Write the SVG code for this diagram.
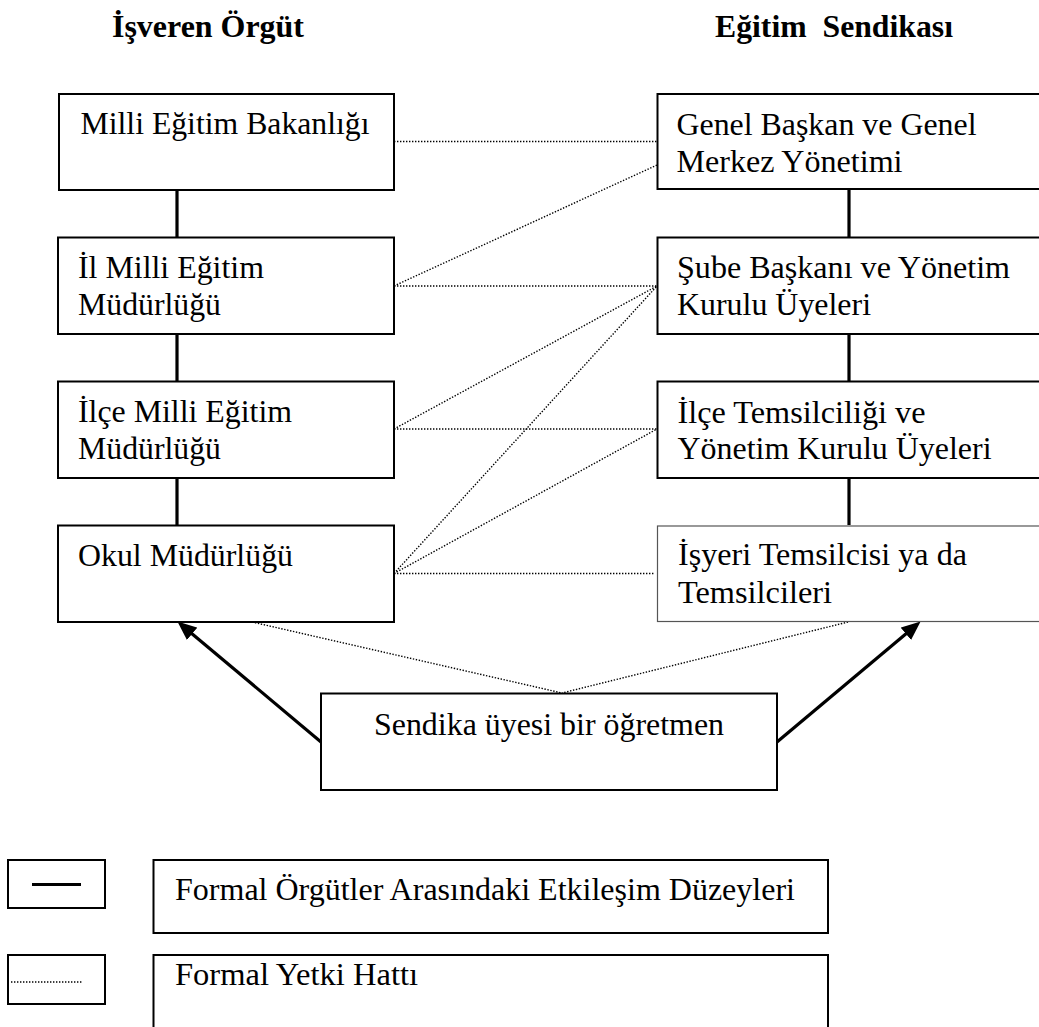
<svg xmlns="http://www.w3.org/2000/svg" width="1039" height="1027" viewBox="0 0 1039 1027">
<defs>
<style>
.box{fill:#fff;stroke:#000;stroke-width:2}
.thin{fill:#fff;stroke:#555;stroke-width:1.2}
.t{font-family:'Liberation Serif','Times New Roman',Times,serif;font-size:32px;fill:#000}
.b{font-weight:bold}
.solid{stroke:#000;stroke-width:3.2;fill:none}
.dot{stroke:#000;stroke-width:1.4;stroke-dasharray:1.4 1.6;fill:none}
.arrow{stroke:#000;stroke-width:3.2;fill:none;marker-end:url(#ah)}
</style>
<marker id="ah" markerWidth="6" markerHeight="5" refX="2" refY="2.5" orient="auto" markerUnits="strokeWidth">
<path d="M0,0 L6,2.5 L0,5 z" fill="#000"/>
</marker>
</defs>
<rect width="1039" height="1027" fill="#fff"/>

<g id="headers">
<text class="t b" x="112" y="37" textLength="192" lengthAdjust="spacingAndGlyphs">İşveren Örgüt</text>
<text class="t b" x="715" y="37" textLength="238" lengthAdjust="spacingAndGlyphs" xml:space="preserve">Eğitim  Sendikası</text>
</g>

<g id="connectors">
<line class="solid" x1="177" y1="190" x2="177" y2="237"/>
<line class="solid" x1="177" y1="334" x2="177" y2="381"/>
<line class="solid" x1="177" y1="478" x2="177" y2="525"/>
<line class="solid" x1="849" y1="190" x2="849" y2="237"/>
<line class="solid" x1="849" y1="334" x2="849" y2="381"/>
<line class="solid" x1="849" y1="478" x2="849" y2="525"/>
<line class="dot" x1="394" y1="141.5" x2="657" y2="141.5"/>
<line class="dot" x1="394" y1="286" x2="657" y2="165"/>
<line class="dot" x1="394" y1="286" x2="657" y2="286"/>
<line class="dot" x1="394" y1="429" x2="657" y2="286"/>
<line class="dot" x1="394" y1="429" x2="657" y2="429"/>
<line class="dot" x1="394" y1="573.5" x2="657" y2="286"/>
<line class="dot" x1="394" y1="573.5" x2="657" y2="429"/>
<line class="dot" x1="394" y1="573.5" x2="654" y2="573.5"/>
<line class="dot" x1="252" y1="622" x2="562" y2="693"/>
<line class="dot" x1="848" y1="622" x2="562" y2="693"/>
<line class="arrow" x1="321" y1="742" x2="187.2" y2="629.7"/>
<line class="arrow" x1="777" y1="742" x2="910.8" y2="629.7"/>
</g>

<g id="n-meb">
<rect class="box" x="59" y="94" width="335" height="96"/>
<text class="t" x="80.5" y="134" textLength="289" lengthAdjust="spacingAndGlyphs">Milli Eğitim Bakanlığı</text>
</g>
<g id="n-il">
<rect class="box" x="58" y="237.5" width="336" height="96.5"/>
<text class="t" x="78" y="277.5" textLength="186" lengthAdjust="spacingAndGlyphs">İl Milli Eğitim</text>
<text class="t" x="78" y="315" textLength="143" lengthAdjust="spacingAndGlyphs">Müdürlüğü</text>
</g>
<g id="n-ilce">
<rect class="box" x="58" y="381.5" width="336" height="96.5"/>
<text class="t" x="78" y="421.5" textLength="214" lengthAdjust="spacingAndGlyphs">İlçe Milli Eğitim</text>
<text class="t" x="78" y="459" textLength="143" lengthAdjust="spacingAndGlyphs">Müdürlüğü</text>
</g>
<g id="n-okul">
<rect class="box" x="58" y="525.5" width="336" height="96.5"/>
<text class="t" x="78" y="566" textLength="215" lengthAdjust="spacingAndGlyphs">Okul Müdürlüğü</text>
</g>

<g id="n-genel">
<rect class="box" x="657.5" y="94" width="400" height="95"/>
<text class="t" x="676.5" y="135" textLength="300" lengthAdjust="spacingAndGlyphs">Genel Başkan ve Genel</text>
<text class="t" x="676.5" y="172" textLength="226" lengthAdjust="spacingAndGlyphs">Merkez Yönetimi</text>
</g>
<g id="n-sube">
<rect class="box" x="657.5" y="237.5" width="400" height="96.5"/>
<text class="t" x="677" y="277.5" textLength="333" lengthAdjust="spacingAndGlyphs">Şube Başkanı ve Yönetim</text>
<text class="t" x="677" y="315" textLength="194" lengthAdjust="spacingAndGlyphs">Kurulu Üyeleri</text>
</g>
<g id="n-temsilcilik">
<rect class="box" x="657.5" y="381.5" width="400" height="96.5"/>
<text class="t" x="677.5" y="422.5" textLength="248" lengthAdjust="spacingAndGlyphs">İlçe Temsilciliği ve</text>
<text class="t" x="677.5" y="459" textLength="314" lengthAdjust="spacingAndGlyphs">Yönetim Kurulu Üyeleri</text>
</g>
<g id="n-isyeri">
<rect class="thin" x="657.5" y="526" width="400" height="95.5"/>
<text class="t" x="678" y="565" textLength="289" lengthAdjust="spacingAndGlyphs">İşyeri Temsilcisi ya da</text>
<text class="t" x="678" y="603" textLength="154" lengthAdjust="spacingAndGlyphs">Temsilcileri</text>
</g>

<g id="n-ogretmen">
<rect class="box" x="321" y="693.5" width="456" height="96.5"/>
<text class="t" x="374" y="735" textLength="350" lengthAdjust="spacingAndGlyphs">Sendika üyesi bir öğretmen</text>
</g>

<g id="legend">
<rect class="box" x="8" y="860" width="97" height="48"/>
<line x1="32" y1="884.5" x2="81" y2="884.5" stroke="#000" stroke-width="3"/>
<rect class="box" x="153.5" y="860" width="674.5" height="73"/>
<text class="t" x="175" y="900" textLength="620" lengthAdjust="spacingAndGlyphs">Formal Örgütler Arasındaki Etkileşim Düzeyleri</text>
<rect class="box" x="8" y="955" width="97" height="49"/>
<line class="dot" x1="11" y1="982" x2="82" y2="982"/>
<path class="box" d="M153.5,1035 V955 H828 V1035"/>
<text class="t" x="175" y="985" textLength="243" lengthAdjust="spacingAndGlyphs">Formal Yetki Hattı</text>
</g>
</svg>
